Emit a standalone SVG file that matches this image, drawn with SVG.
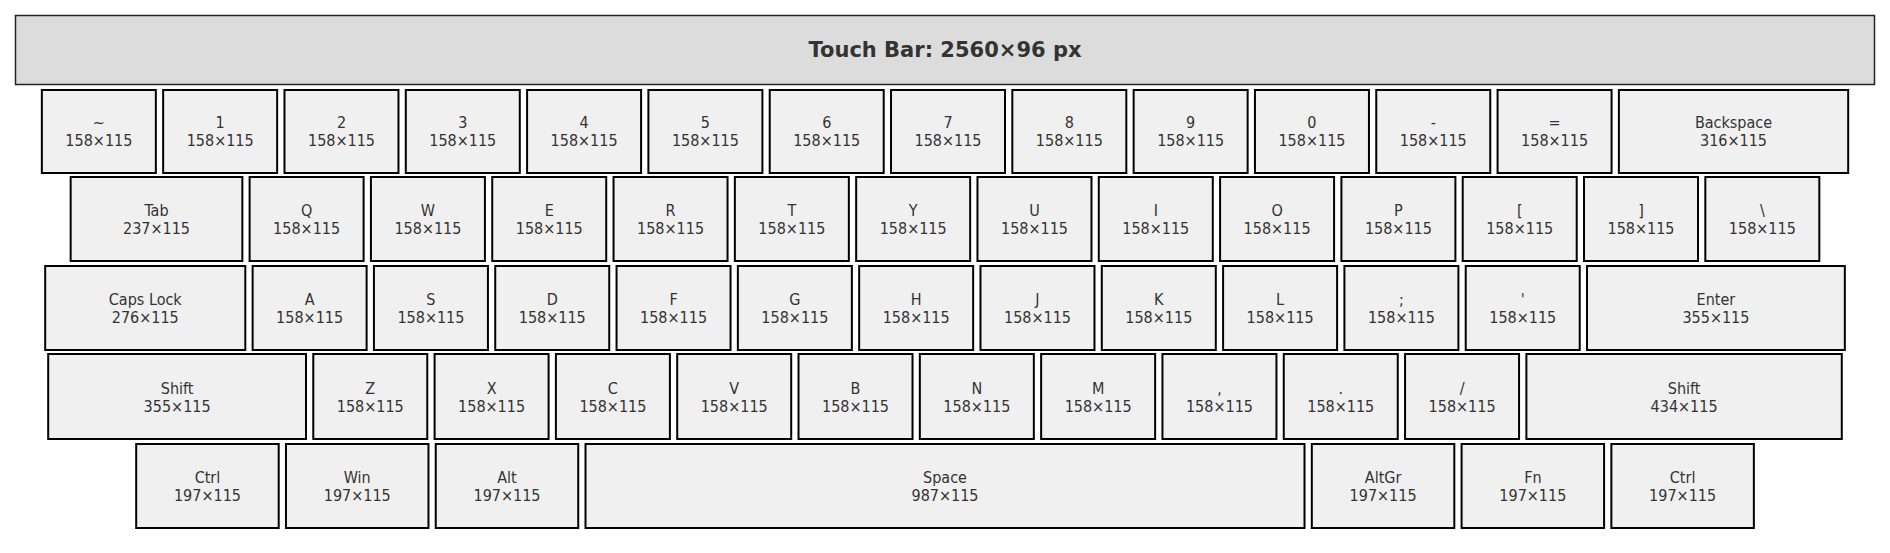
<svg xmlns="http://www.w3.org/2000/svg" width="1890" height="553" viewBox="0 0 1890 553">
<defs>
<style>
.bar{fill:#dcdcdc;stroke:#222;stroke-width:1.5}
.title{font-family:"DejaVu Sans",sans-serif;font-weight:bold;font-size:21px;fill:#333;text-anchor:middle}
.k rect{fill:#f0f0f0;stroke:#000;stroke-width:2}
.k text{font-family:"DejaVu Sans Condensed","DejaVu Sans",sans-serif;font-stretch:condensed;font-size:16px;fill:#333;text-anchor:middle}
</style>
</defs>
<rect width="1890" height="553" fill="#fff"/>
<g id="touchbar"><rect class="bar" x="15.5" y="15.5" width="1859" height="69"/><text class="title" x="945" y="57">Touch Bar: 2560×96 px</text></g>
<g id="connectors"/>
<g id="row1">
<g class="k" id="k-tilde"><rect x="41.85" y="90" width="114" height="83"/><text x="98.85" y="128">~</text><text x="98.85" y="146.3">158×115</text></g>
<g class="k" id="k-1"><rect x="163.16" y="90" width="114" height="83"/><text x="220.16" y="128">1</text><text x="220.16" y="146.3">158×115</text></g>
<g class="k" id="k-2"><rect x="284.47" y="90" width="114" height="83"/><text x="341.47" y="128">2</text><text x="341.47" y="146.3">158×115</text></g>
<g class="k" id="k-3"><rect x="405.78" y="90" width="114" height="83"/><text x="462.78" y="128">3</text><text x="462.78" y="146.3">158×115</text></g>
<g class="k" id="k-4"><rect x="527.09" y="90" width="114" height="83"/><text x="584.09" y="128">4</text><text x="584.09" y="146.3">158×115</text></g>
<g class="k" id="k-5"><rect x="648.4" y="90" width="114" height="83"/><text x="705.4" y="128">5</text><text x="705.4" y="146.3">158×115</text></g>
<g class="k" id="k-6"><rect x="769.71" y="90" width="114" height="83"/><text x="826.71" y="128">6</text><text x="826.71" y="146.3">158×115</text></g>
<g class="k" id="k-7"><rect x="891.02" y="90" width="114" height="83"/><text x="948.02" y="128">7</text><text x="948.02" y="146.3">158×115</text></g>
<g class="k" id="k-8"><rect x="1012.33" y="90" width="114" height="83"/><text x="1069.33" y="128">8</text><text x="1069.33" y="146.3">158×115</text></g>
<g class="k" id="k-9"><rect x="1133.64" y="90" width="114" height="83"/><text x="1190.64" y="128">9</text><text x="1190.64" y="146.3">158×115</text></g>
<g class="k" id="k-0"><rect x="1254.95" y="90" width="114" height="83"/><text x="1311.95" y="128">0</text><text x="1311.95" y="146.3">158×115</text></g>
<g class="k" id="k-minus"><rect x="1376.26" y="90" width="114" height="83"/><text x="1433.26" y="128">-</text><text x="1433.26" y="146.3">158×115</text></g>
<g class="k" id="k-equal"><rect x="1497.57" y="90" width="114" height="83"/><text x="1554.57" y="128">=</text><text x="1554.57" y="146.3">158×115</text></g>
<g class="k" id="k-backspace"><rect x="1618.88" y="90" width="229.3" height="83"/><text x="1733.53" y="128">Backspace</text><text x="1733.53" y="146.3">316×115</text></g>
</g>
<g id="row2">
<g class="k" id="k-tab"><rect x="70.65" y="177" width="171.7" height="84"/><text x="156.5" y="216">Tab</text><text x="156.5" y="234.3">237×115</text></g>
<g class="k" id="k-q"><rect x="249.61" y="177" width="114" height="84"/><text x="306.61" y="216">Q</text><text x="306.61" y="234.3">158×115</text></g>
<g class="k" id="k-w"><rect x="370.92" y="177" width="114" height="84"/><text x="427.92" y="216">W</text><text x="427.92" y="234.3">158×115</text></g>
<g class="k" id="k-e"><rect x="492.23" y="177" width="114" height="84"/><text x="549.23" y="216">E</text><text x="549.23" y="234.3">158×115</text></g>
<g class="k" id="k-r"><rect x="613.54" y="177" width="114" height="84"/><text x="670.54" y="216">R</text><text x="670.54" y="234.3">158×115</text></g>
<g class="k" id="k-t"><rect x="734.85" y="177" width="114" height="84"/><text x="791.85" y="216">T</text><text x="791.85" y="234.3">158×115</text></g>
<g class="k" id="k-y"><rect x="856.16" y="177" width="114" height="84"/><text x="913.16" y="216">Y</text><text x="913.16" y="234.3">158×115</text></g>
<g class="k" id="k-u"><rect x="977.47" y="177" width="114" height="84"/><text x="1034.47" y="216">U</text><text x="1034.47" y="234.3">158×115</text></g>
<g class="k" id="k-i"><rect x="1098.78" y="177" width="114" height="84"/><text x="1155.78" y="216">I</text><text x="1155.78" y="234.3">158×115</text></g>
<g class="k" id="k-o"><rect x="1220.09" y="177" width="114" height="84"/><text x="1277.09" y="216">O</text><text x="1277.09" y="234.3">158×115</text></g>
<g class="k" id="k-p"><rect x="1341.4" y="177" width="114" height="84"/><text x="1398.4" y="216">P</text><text x="1398.4" y="234.3">158×115</text></g>
<g class="k" id="k-lbracket"><rect x="1462.71" y="177" width="114" height="84"/><text x="1519.71" y="216">[</text><text x="1519.71" y="234.3">158×115</text></g>
<g class="k" id="k-rbracket"><rect x="1584.02" y="177" width="114" height="84"/><text x="1641.02" y="216">]</text><text x="1641.02" y="234.3">158×115</text></g>
<g class="k" id="k-backslash"><rect x="1705.33" y="177" width="114" height="84"/><text x="1762.33" y="216">\</text><text x="1762.33" y="234.3">158×115</text></g>
</g>
<g id="row3">
<g class="k" id="k-caps"><rect x="45.2" y="266" width="200.1" height="84"/><text x="145.25" y="305">Caps Lock</text><text x="145.25" y="323.3">276×115</text></g>
<g class="k" id="k-a"><rect x="252.62" y="266" width="114" height="84"/><text x="309.62" y="305">A</text><text x="309.62" y="323.3">158×115</text></g>
<g class="k" id="k-s"><rect x="373.93" y="266" width="114" height="84"/><text x="430.93" y="305">S</text><text x="430.93" y="323.3">158×115</text></g>
<g class="k" id="k-d"><rect x="495.24" y="266" width="114" height="84"/><text x="552.24" y="305">D</text><text x="552.24" y="323.3">158×115</text></g>
<g class="k" id="k-f"><rect x="616.55" y="266" width="114" height="84"/><text x="673.55" y="305">F</text><text x="673.55" y="323.3">158×115</text></g>
<g class="k" id="k-g"><rect x="737.86" y="266" width="114" height="84"/><text x="794.86" y="305">G</text><text x="794.86" y="323.3">158×115</text></g>
<g class="k" id="k-h"><rect x="859.17" y="266" width="114" height="84"/><text x="916.17" y="305">H</text><text x="916.17" y="323.3">158×115</text></g>
<g class="k" id="k-j"><rect x="980.48" y="266" width="114" height="84"/><text x="1037.48" y="305">J</text><text x="1037.48" y="323.3">158×115</text></g>
<g class="k" id="k-k"><rect x="1101.79" y="266" width="114" height="84"/><text x="1158.79" y="305">K</text><text x="1158.79" y="323.3">158×115</text></g>
<g class="k" id="k-l"><rect x="1223.1" y="266" width="114" height="84"/><text x="1280.1" y="305">L</text><text x="1280.1" y="323.3">158×115</text></g>
<g class="k" id="k-semicolon"><rect x="1344.41" y="266" width="114" height="84"/><text x="1401.41" y="305">;</text><text x="1401.41" y="323.3">158×115</text></g>
<g class="k" id="k-quote"><rect x="1465.72" y="266" width="114" height="84"/><text x="1522.72" y="305">'</text><text x="1522.72" y="323.3">158×115</text></g>
<g class="k" id="k-enter"><rect x="1587.03" y="266" width="257.8" height="84"/><text x="1715.93" y="305">Enter</text><text x="1715.93" y="323.3">355×115</text></g>
</g>
<g id="row4">
<g class="k" id="k-lshift"><rect x="48.2" y="354" width="257.8" height="85"/><text x="177.1" y="393.5">Shift</text><text x="177.1" y="411.8">355×115</text></g>
<g class="k" id="k-z"><rect x="313.28" y="354" width="114" height="85"/><text x="370.28" y="393.5">Z</text><text x="370.28" y="411.8">158×115</text></g>
<g class="k" id="k-x"><rect x="434.59" y="354" width="114" height="85"/><text x="491.59" y="393.5">X</text><text x="491.59" y="411.8">158×115</text></g>
<g class="k" id="k-c"><rect x="555.9" y="354" width="114" height="85"/><text x="612.9" y="393.5">C</text><text x="612.9" y="411.8">158×115</text></g>
<g class="k" id="k-v"><rect x="677.21" y="354" width="114" height="85"/><text x="734.21" y="393.5">V</text><text x="734.21" y="411.8">158×115</text></g>
<g class="k" id="k-b"><rect x="798.52" y="354" width="114" height="85"/><text x="855.52" y="393.5">B</text><text x="855.52" y="411.8">158×115</text></g>
<g class="k" id="k-n"><rect x="919.83" y="354" width="114" height="85"/><text x="976.83" y="393.5">N</text><text x="976.83" y="411.8">158×115</text></g>
<g class="k" id="k-m"><rect x="1041.14" y="354" width="114" height="85"/><text x="1098.14" y="393.5">M</text><text x="1098.14" y="411.8">158×115</text></g>
<g class="k" id="k-comma"><rect x="1162.45" y="354" width="114" height="85"/><text x="1219.45" y="393.5">,</text><text x="1219.45" y="411.8">158×115</text></g>
<g class="k" id="k-period"><rect x="1283.76" y="354" width="114" height="85"/><text x="1340.76" y="393.5">.</text><text x="1340.76" y="411.8">158×115</text></g>
<g class="k" id="k-slash"><rect x="1405.07" y="354" width="114" height="85"/><text x="1462.07" y="393.5">/</text><text x="1462.07" y="411.8">158×115</text></g>
<g class="k" id="k-rshift"><rect x="1526.38" y="354" width="315.4" height="85"/><text x="1684.08" y="393.5">Shift</text><text x="1684.08" y="411.8">434×115</text></g>
</g>
<g id="row5">
<g class="k" id="k-lctrl"><rect x="136.2" y="444" width="142.5" height="84"/><text x="207.45" y="483">Ctrl</text><text x="207.45" y="501.3">197×115</text></g>
<g class="k" id="k-win"><rect x="285.97" y="444" width="142.5" height="84"/><text x="357.22" y="483">Win</text><text x="357.22" y="501.3">197×115</text></g>
<g class="k" id="k-alt"><rect x="435.74" y="444" width="142.5" height="84"/><text x="506.99" y="483">Alt</text><text x="506.99" y="501.3">197×115</text></g>
<g class="k" id="k-space"><rect x="585.51" y="444" width="719" height="84"/><text x="945.01" y="483">Space</text><text x="945.01" y="501.3">987×115</text></g>
<g class="k" id="k-altgr"><rect x="1311.82" y="444" width="142.5" height="84"/><text x="1383.07" y="483">AltGr</text><text x="1383.07" y="501.3">197×115</text></g>
<g class="k" id="k-fn"><rect x="1461.59" y="444" width="142.5" height="84"/><text x="1532.84" y="483">Fn</text><text x="1532.84" y="501.3">197×115</text></g>
<g class="k" id="k-rctrl"><rect x="1611.36" y="444" width="142.5" height="84"/><text x="1682.61" y="483">Ctrl</text><text x="1682.61" y="501.3">197×115</text></g>
</g>
</svg>
